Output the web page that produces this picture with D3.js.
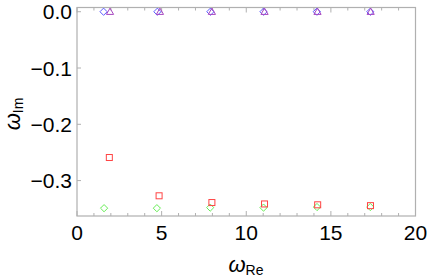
<!DOCTYPE html>
<html>
<head>
<meta charset="utf-8">
<script src="https://cdn.jsdelivr.net/npm/d3@7"></script>
<style>
  body { margin: 0; background: #fff; }
  svg { font-family: "Liberation Sans", Arial, sans-serif; }
</style>
</head>
<body>
<div id="chart"></div>
<script>
// -------------------- DATA --------------------
// modes at zero imaginary part (blue diamonds / purple triangles)
const blueRe   = [1.57, 4.75, 7.88, 11.02, 14.17, 17.33];
const blueIm   = [0, 0, 0, 0, 0, 0];
const purpleRe = [1.95, 4.9, 7.97, 11.08, 14.21, 17.35];
const purpleIm = [0, 0, 0, 0, 0, 0];
// damped modes
const redRe   = [1.91, 4.85, 7.97, 11.08, 14.22, 17.34];
const redIm   = [-0.259, -0.327, -0.339, -0.3415, -0.343, -0.3445];
const greenRe = [1.6, 4.72, 7.87, 11.02, 14.18, 17.33];
const greenIm = [-0.349, -0.349, -0.348, -0.348, -0.347, -0.347];

const xTicks = [0, 5, 10, 15, 20];
const yTicks = [0, -0.1, -0.2, -0.3];

const W = 429, H = 278;
const frame = { left: 77, right: 415.5, top: 7.5, bottom: 216 };

const svg = d3.select("#chart").append("svg")
  .attr("width", W).attr("height", H);

const x = d3.scaleLinear().domain([0, 20]).range([frame.left, frame.right]);
const y = d3.scaleLinear().domain([-0.3629, 0.0075]).range([frame.bottom, frame.top]);

const axisColor = "#b0b0b0";

// frame
svg.append("rect")
  .attr("x", frame.left).attr("y", frame.top)
  .attr("width", frame.right - frame.left)
  .attr("height", frame.bottom - frame.top)
  .attr("fill", "none").attr("stroke", axisColor).attr("stroke-width", 1.2);

// x ticks on bottom and top (inward)
const xMinor = d3.range(0, 21, 1);
const tickG = svg.append("g").attr("stroke", axisColor).attr("stroke-width", 1);
xMinor.forEach(v => {
  const len = v % 5 === 0 ? 5 : 3;
  tickG.append("line").attr("x1", x(v)).attr("x2", x(v))
    .attr("y1", frame.bottom).attr("y2", frame.bottom - len);
  tickG.append("line").attr("x1", x(v)).attr("x2", x(v))
    .attr("y1", frame.top).attr("y2", frame.top + len);
});
yTicks.forEach(v => {
  tickG.append("line").attr("x1", frame.left).attr("x2", frame.left + 4)
    .attr("y1", y(v)).attr("y2", y(v));
});

// tick labels
svg.append("g").selectAll("text").data(xTicks).join("text")
  .attr("x", d => x(d)).attr("y", 240)
  .attr("text-anchor", "middle")
  .attr("font-size", 21)
  .text(d => d);

svg.append("g").selectAll("text").data(yTicks).join("text")
  .attr("x", 72).attr("y", d => y(d) + 7.5)
  .attr("text-anchor", "end")
  .attr("font-size", 21)
  .text(d => d3.format(".1f")(d).replace("-", "\u2212"));

// axis labels
const xl = svg.append("text").attr("x", 246).attr("y", 272)
  .attr("text-anchor", "middle").attr("font-size", 22);
xl.append("tspan").attr("font-style", "italic").text("ω");
xl.append("tspan").attr("font-size", 14).attr("dy", 3).text("Re");

const yl = svg.append("text")
  .attr("transform", "translate(20,114) rotate(-90)")
  .attr("text-anchor", "middle").attr("font-size", 22);
yl.append("tspan").attr("font-style", "italic").text("ω");
yl.append("tspan").attr("font-size", 14).attr("dy", 3).text("Im");

// markers
const plot = svg.append("g").attr("fill", "none").attr("stroke-width", 1);

function diamonds(xs, ys, color) {
  const r = 3.6;
  plot.append("g").selectAll("path").data(d3.zip(xs, ys)).join("path")
    .attr("d", d => `M${x(d[0])},${y(d[1]) - r}L${x(d[0]) + r},${y(d[1])}L${x(d[0])},${y(d[1]) + r}L${x(d[0]) - r},${y(d[1])}Z`)
    .attr("stroke", color);
}
function squares(xs, ys, color) {
  const r = 3;
  plot.append("g").selectAll("rect").data(d3.zip(xs, ys)).join("rect")
    .attr("x", d => x(d[0]) - r).attr("y", d => y(d[1]) - r)
    .attr("width", 2 * r).attr("height", 2 * r)
    .attr("stroke", color);
}
function triangles(xs, ys, color) {
  const r = 3.6;
  plot.append("g").selectAll("path").data(d3.zip(xs, ys)).join("path")
    .attr("d", d => `M${x(d[0])},${y(d[1]) - r}L${x(d[0]) + r},${y(d[1]) + r * 0.75}L${x(d[0]) - r},${y(d[1]) + r * 0.75}Z`)
    .attr("stroke", color);
}

diamonds(greenRe, greenIm, "#66ee55");
squares(redRe, redIm, "#ff4444");
diamonds(blueRe, blueIm, "#5a5aff");
triangles(purpleRe, purpleIm, "#a848c0");
</script>
</body>
</html>
